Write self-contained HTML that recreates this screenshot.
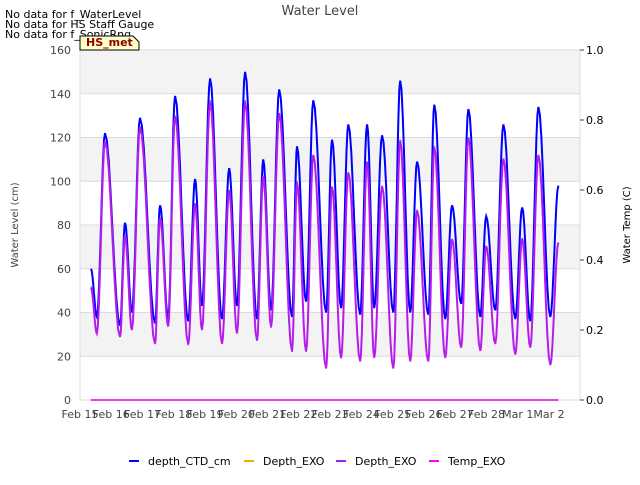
<!DOCTYPE html>
<html><head><meta charset="utf-8"><style>
body{margin:0;background:#fff;font-family:"Liberation Sans","DejaVu Sans",sans-serif}
svg text{font-family:"DejaVu Sans","Liberation Sans",sans-serif}
</style></head><body>
<svg id="c" width="640" height="480" xmlns="http://www.w3.org/2000/svg">
<rect width="640" height="480" fill="#fff"/>
<text x="320" y="15" font-size="13" fill="#444" text-anchor="middle">Water Level</text>
<g font-size="11" fill="#000">
<text x="5" y="18">No data for f_WaterLevel</text>
<text x="5" y="28">No data for HS Staff Gauge</text>
<text x="5" y="38">No data for f_SonicRng</text>
</g>
<g id="bands"></g>
<g id="axes"></g>
<g id="series"></g>
<g>
<path d="M80,50 L80,36 L133,36 L139,42 L139,50 Z" fill="#ffffc8" stroke="#000" stroke-width="1"/>
<text x="86" y="46" font-size="11" font-weight="bold" fill="#8b0000">HS_met</text>
</g>
<text transform="translate(18,225) rotate(-90)" font-size="10" fill="#444" text-anchor="middle">Water Level (cm)</text>
<text transform="translate(630,225) rotate(-90)" font-size="10" fill="#000" text-anchor="middle">Water Temp (C)</text>
<g id="legend" font-size="11"></g>
</svg>
<script>
const dayLabels=["Feb 15","Feb 16","Feb 17","Feb 18","Feb 19","Feb 20","Feb 21","Feb 22","Feb 23","Feb 24","Feb 25","Feb 26","Feb 27","Feb 28","Mar 1","Mar 2"];
const leftTicks=[0,20,40,60,80,100,120,140,160];
const rightTicks=[0.0,0.2,0.4,0.6,0.8,1.0];
const times=[0.35,0.54,0.80,1.28,1.44,1.66,1.92,2.40,2.56,2.82,3.04,3.46,3.68,3.90,4.16,4.54,4.77,5.02,5.28,5.66,5.86,6.11,6.37,6.78,6.94,7.23,7.46,7.87,8.06,8.35,8.58,8.96,9.18,9.41,9.66,10.02,10.24,10.56,10.78,11.14,11.33,11.68,11.90,12.19,12.42,12.80,12.99,13.28,13.54,13.92,14.14,14.40,14.66,15.04,15.30];
const depthCTD=[60,38,122,34,81,40,129,35,89,37,139,36,101,43,147,37,106,43,150,37,110,41,142,38,116,45,137,40,119,42,126,39,126,42,121,40,146,40,109,39,135,37,89,44,133,38,84,41,126,37,88,36,134,38,98];
const depthEXO=[52,31,118,29,75,32,125,26,83,34,130,25,90,32,137,26,96,31,137,27,102,33,131,22,100,22,112,15,97,19,104,18,109,20,98,15,119,18,87,18,116,20,73,24,120,23,70,26,110,21,74,24,112,16,72];
const tempEXO=[0.32,0.19,0.74,0.18,0.47,0.20,0.78,0.16,0.52,0.21,0.81,0.16,0.56,0.20,0.85,0.16,0.60,0.19,0.85,0.17,0.64,0.21,0.82,0.14,0.62,0.14,0.70,0.09,0.61,0.12,0.65,0.11,0.68,0.12,0.61,0.09,0.74,0.11,0.54,0.11,0.72,0.12,0.46,0.15,0.75,0.14,0.44,0.16,0.69,0.13,0.46,0.15,0.70,0.10,0.45];
const X0=80,X1=580,Y0=400,Y1=50;
const xs=d=>X0+d*(X1-X0)/15.99;
const yL=v=>Y0-v*(Y0-Y1)/160;
const yR=v=>Y0-v*(Y0-Y1)/1.0;
const NS="http://www.w3.org/2000/svg";
function mk(t,a,p){const e=document.createElementNS(NS,t);for(const k in a)e.setAttribute(k,a[k]);p.appendChild(e);return e;}
const bands=document.getElementById('bands');
for(let i=0;i<leftTicks.length-1;i++){
 if(i%2===1){const r=mk('rect',{x:X0,y:yL(leftTicks[i+1]),width:X1-X0,height:yL(leftTicks[i])-yL(leftTicks[i+1]),fill:'#f3f3f3'},bands);
 
 }
}
const ax=document.getElementById('axes');
leftTicks.forEach(v=>{
 const l=mk('line',{x1:X0,x2:X1,y1:yL(v),y2:yL(v),stroke:'#dcdcdc','stroke-width':1},ax);
 
 
 const t=mk('text',{x:71,y:yL(v)+4,'font-size':11,fill:'#444','text-anchor':'end'},ax);t.textContent=v;
 
 
});
mk('line',{x1:X0,x2:X0,y1:Y1,y2:Y0,stroke:'#dcdcdc'},ax);
mk('line',{x1:X1,x2:X1,y1:Y1,y2:Y0,stroke:'#dcdcdc'},ax);
rightTicks.forEach(v=>{
 mk('line',{x1:X1,x2:X1+4,y1:yR(v),y2:yR(v),stroke:'#444'},ax);
 const t=mk('text',{x:586,y:yR(v)+4,'font-size':11,fill:'#000'},ax);t.textContent=v.toFixed(1);
 
 
});
dayLabels.forEach((s,i)=>{
 const t=mk('text',{x:xs(i),y:418,'font-size':11,fill:'#444','text-anchor':'middle'},ax);t.textContent=s;
 
 
});
function smooth(vals,yf){
 let d='';
 for(let i=0;i<vals.length;i++){
  if(i===0){d+='M'+xs(times[0]).toFixed(1)+','+yf(vals[0]).toFixed(1);continue;}
  const t0=times[i-1],t1=times[i],v0=vals[i-1],v1=vals[i];
  for(let k=1;k<=8;k++){const f=k/8,w=(1-Math.cos(Math.PI*f))/2;
   d+=' L'+xs(t0+(t1-t0)*f).toFixed(1)+','+yf(v0+(v1-v0)*w).toFixed(1);}
 }
 return d;
}
const sg=document.getElementById('series');
const base=mk('line',{x1:xs(0.35),x2:xs(15.3),y1:Y0,y2:Y0,stroke:'#dd00dd','stroke-width':1.5},sg);


const p1=mk('path',{d:smooth(depthCTD,yL),fill:'none',stroke:'#0000ff','stroke-width':2},sg);


const p3=mk('path',{d:smooth(tempEXO,yR),fill:'none',stroke:'#e020e0','stroke-width':2},sg);


const p2=mk('path',{d:smooth(depthEXO,yL),fill:'none',stroke:'#a020f0','stroke-width':1.5,opacity:0.85},sg);


const lg=document.getElementById('legend');
const items=[["depth_CTD_cm","#0000ff",129],["Depth_EXO","#ffa500",244],["Depth_EXO","#a020f0",336],["Temp_EXO","#ff00ff",429]];
items.forEach(([n,c,x])=>{
 const g=mk('g',{},lg);
 
 
 mk('line',{x1:x,x2:x+10,y1:461,y2:461,stroke:c,'stroke-width':2},g);
 const t=mk('text',{x:x+19,y:465,fill:'#000'},g);t.textContent=n;
});
</script>
</body></html>
